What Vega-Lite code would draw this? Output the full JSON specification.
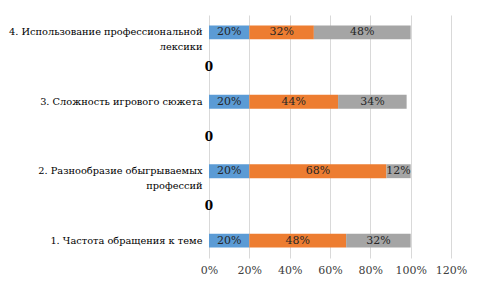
{
  "$schema": "https://vega.github.io/schema/vega-lite/v6.json",
  "width": 242,
  "height": 243,
  "autosize": {"type": "none"},
  "padding": {"left": 209, "top": 15, "right": 31, "bottom": 32},
  "background": "white",
  "config": {
    "view": {"stroke": null}
  },
  "datasets": {
    "bars": [
      {"category": "4. Использование профессиональной|лексики", "series": 1, "pct": 0.20},
      {"category": "4. Использование профессиональной|лексики", "series": 2, "pct": 0.32},
      {"category": "4. Использование профессиональной|лексики", "series": 3, "pct": 0.48},
      {"category": "3. Сложность игрового сюжета", "series": 1, "pct": 0.20},
      {"category": "3. Сложность игрового сюжета", "series": 2, "pct": 0.44},
      {"category": "3. Сложность игрового сюжета", "series": 3, "pct": 0.34},
      {"category": "2. Разнообразие обыгрываемых|профессий", "series": 1, "pct": 0.20},
      {"category": "2. Разнообразие обыгрываемых|профессий", "series": 2, "pct": 0.68},
      {"category": "2. Разнообразие обыгрываемых|профессий", "series": 3, "pct": 0.12},
      {"category": "1. Частота обращения к теме", "series": 1, "pct": 0.20},
      {"category": "1. Частота обращения к теме", "series": 2, "pct": 0.48},
      {"category": "1. Частота обращения к теме", "series": 3, "pct": 0.32}
    ],
    "gaps": [
      {"category": "gap3", "value": 0},
      {"category": "gap2", "value": 0},
      {"category": "gap1", "value": 0}
    ]
  },
  "encoding": {
    "y": {
      "field": "category",
      "type": "nominal",
      "scale": {
        "domain": [
          "4. Использование профессиональной|лексики",
          "gap3",
          "3. Сложность игрового сюжета",
          "gap2",
          "2. Разнообразие обыгрываемых|профессий",
          "gap1",
          "1. Частота обращения к теме"
        ],
        "paddingInner": 0.6,
        "paddingOuter": 0.3
      },
      "axis": {
        "title": null,
        "domain": false,
        "ticks": false,
        "labelFont": "DejaVu Serif",
        "labelFontSize": 9.8,
        "labelColor": "#000000",
        "labelLineHeight": 15,
        "labelLimit": 300,
        "labelPadding": 7,
        "labelAlign": "right",
        "labelExpr": "indexof(datum.value, 'gap') == 0 ? '' : split(datum.label, '|')"
      }
    }
  },
  "layer": [
    {
      "data": {"name": "bars"},
      "mark": {"type": "bar"},
      "encoding": {
        "x": {
          "field": "pct",
          "type": "quantitative",
          "aggregate": "sum",
          "stack": "zero",
          "scale": {"domain": [0, 1.2], "nice": false},
          "axis": {
            "title": null,
            "format": ".0%",
            "values": [0, 0.2, 0.4, 0.6, 0.8, 1.0, 1.2],
            "domain": false,
            "ticks": false,
            "grid": true,
            "gridColor": "#D9D9D9",
            "labelFont": "DejaVu Serif",
            "labelFontSize": 11,
            "labelColor": "#404040",
            "labelPadding": 6,
            "labelOverlap": false,
            "labelFlush": false
          }
        },
        "color": {
          "field": "series",
          "type": "nominal",
          "scale": {"domain": [1, 2, 3], "range": ["#5B9BD5", "#ED7D31", "#A5A5A5"]},
          "legend": null
        },
        "order": {"field": "series", "type": "quantitative", "sort": "ascending"}
      }
    },
    {
      "data": {"name": "bars"},
      "mark": {"type": "text", "font": "DejaVu Serif", "fontSize": 11, "color": "#262626", "align": "center", "baseline": "middle"},
      "encoding": {
        "x": {"field": "pct", "type": "quantitative", "aggregate": "sum", "stack": "zero", "bandPosition": 0.5},
        "detail": {"field": "series", "type": "nominal"},
        "order": {"field": "series", "type": "quantitative", "sort": "ascending"},
        "text": {"field": "pct", "type": "quantitative", "aggregate": "sum", "format": ".0%"}
      }
    },
    {
      "data": {"name": "gaps"},
      "mark": {"type": "text", "font": "DejaVu Serif", "fontSize": 12, "fontWeight": "bold", "color": "#000000", "align": "center", "baseline": "middle"},
      "encoding": {
        "x": {"field": "value", "type": "quantitative"},
        "text": {"field": "value", "type": "quantitative"}
      }
    }
  ]
}
